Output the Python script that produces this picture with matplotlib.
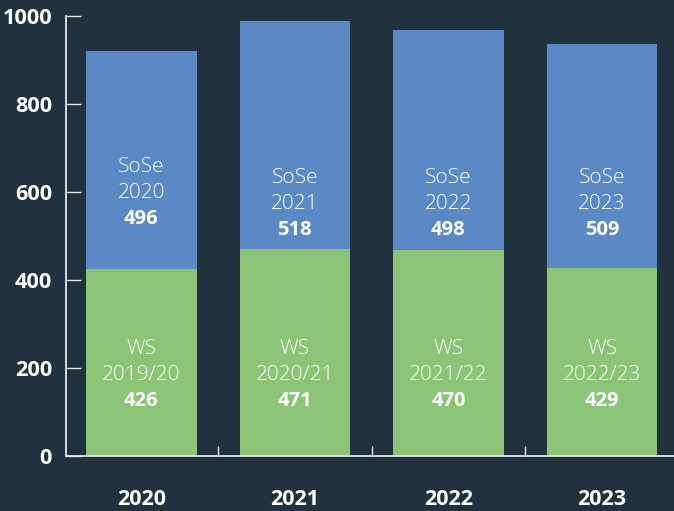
import matplotlib
matplotlib.use("Agg")
import matplotlib.pyplot as plt
import numpy as np

years = ["2020", "2021", "2022", "2023"]
ws_labels = ["WS\n2019/20", "WS\n2020/21", "WS\n2021/22", "WS\n2022/23"]
sose_labels = ["SoSe\n2020", "SoSe\n2021", "SoSe\n2022", "SoSe\n2023"]
ws_values = [426, 471, 470, 429]
sose_values = [496, 518, 498, 509]
sose_label_y = [598, 573, 573, 573]
ws_label_y = [185, 185, 185, 185]
yticks = [0, 200, 400, 600, 800, 1000]

BG = "#21313e"
BLUE = "#5b89c6"
GREEN = "#8bc377"
WHITE = "#ffffff"
SPINE = "#e6e6e6"

plt.rcParams['font.family'] = ['Open Sans', 'DejaVu Sans']

fig = plt.figure(figsize=(6.74, 5.11), dpi=100, facecolor=BG)
ax = fig.add_axes([66/674, 1-456.3/511, 1-66/674, (456.3-16.3)/511])
ax.set_facecolor(BG)

x = np.arange(len(years))
w = 0.72
ax.bar(x, ws_values, width=w, color=GREEN, zorder=2)
ax.bar(x, sose_values, width=w, bottom=ws_values, color=BLUE, zorder=2)

for i in range(len(years)):
    for lab, val, yy in ((sose_labels[i], sose_values[i], sose_label_y[i]),
                         (ws_labels[i], ws_values[i], ws_label_y[i])):
        l1, l2 = lab.split("\n")
        ax.annotate(l1, (x[i], yy), xytext=(0, 18.7), textcoords="offset points",
                    ha="center", va="center", color=WHITE, fontsize=15, fontweight="light", zorder=3)
        ax.annotate(l2, (x[i], yy), xytext=(0, 0), textcoords="offset points",
                    ha="center", va="center", color=WHITE, fontsize=15, fontweight="light", zorder=3)
        ax.annotate(str(val), (x[i], yy), xytext=(0, -18.7), textcoords="offset points",
                    ha="center", va="center", color=WHITE, fontsize=14.5, fontweight="bold", zorder=3)

ax.set_xlim(-0.49, 3.468)
ax.set_ylim(0, 1000)
ax.set_yticks(yticks)
ax.set_yticklabels([str(v) for v in yticks], fontsize=15.7, fontweight="bold", color=WHITE)
ax.tick_params(axis="y", direction="in", length=10.5, width=1, color=SPINE, pad=10)

ax.set_xticks(x[:-1] + 0.5)
ax.set_xticklabels([])
ax.tick_params(axis="x", direction="in", length=7.5, width=1, color=SPINE)
for i, yr in enumerate(years):
    ax.annotate(yr, (x[i], 0), xytext=(0, -31), textcoords="offset points",
                ha="center", va="center", color=WHITE, fontsize=15.5, fontweight="bold",
                annotation_clip=False)

for s in ("top", "right"):
    ax.spines[s].set_visible(False)
for s in ("left", "bottom"):
    ax.spines[s].set_color(SPINE)
    ax.spines[s].set_linewidth(1.3)
    ax.spines[s].set_zorder(4)

fig.savefig("out.png", dpi=100, facecolor=BG)
